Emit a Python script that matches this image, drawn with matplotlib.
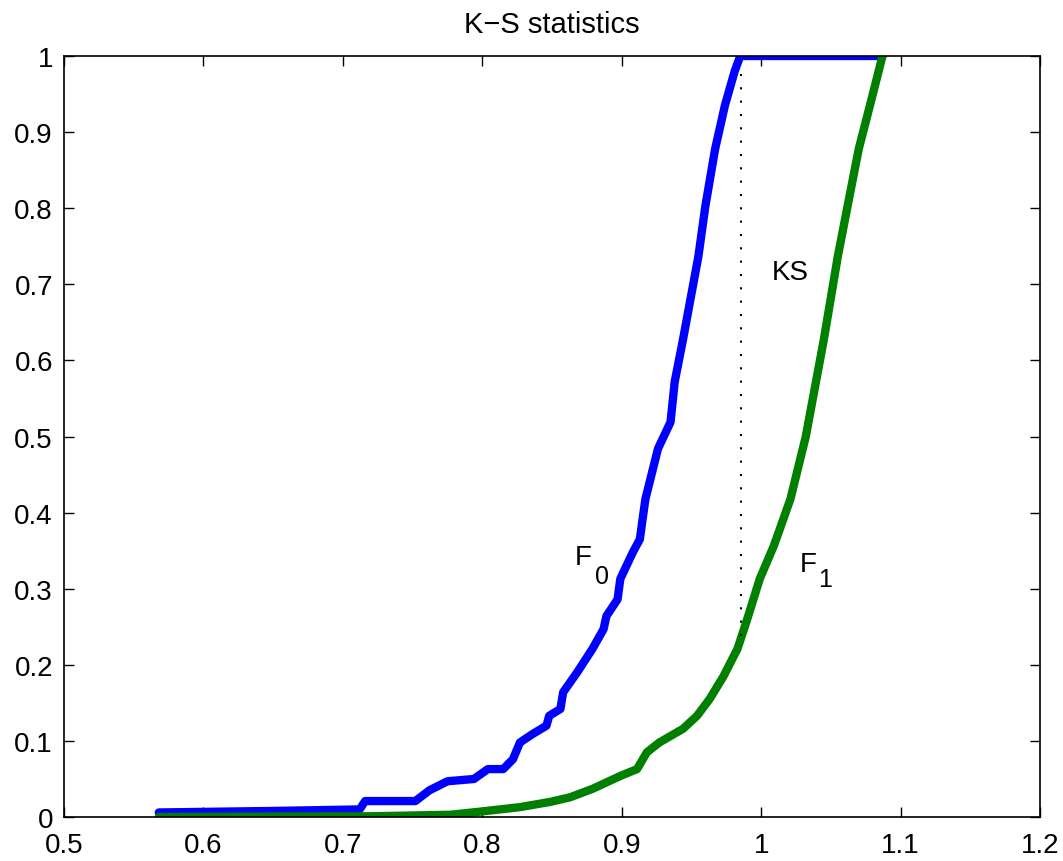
import numpy as np
import matplotlib.pyplot as plt

plt.rcParams['font.family'] = ['Liberation Sans', 'DejaVu Sans']

f0_x = [0.568, 0.650, 0.712, 0.716, 0.752, 0.762, 0.775, 0.794, 0.804, 0.815,
        0.822, 0.827, 0.836, 0.846, 0.848, 0.856, 0.858, 0.868, 0.879, 0.887,
        0.889, 0.897, 0.899, 0.908, 0.913, 0.915, 0.917, 0.926, 0.935, 0.938,
        0.944, 0.955, 0.960, 0.967, 0.974, 0.981, 0.985, 1.087]
f0_y = [0.006, 0.008, 0.010, 0.021, 0.021, 0.035, 0.047, 0.050, 0.063, 0.063,
        0.076, 0.098, 0.109, 0.120, 0.133, 0.142, 0.164, 0.190, 0.221, 0.247,
        0.264, 0.286, 0.313, 0.348, 0.365, 0.392, 0.418, 0.484, 0.519, 0.572,
        0.628, 0.737, 0.803, 0.878, 0.935, 0.980, 1.000, 1.000]

# empirical CDF F1 (green)
f1_x = [0.568, 0.720, 0.777, 0.798, 0.827, 0.849, 0.863, 0.879, 0.899, 0.911,
        0.918, 0.927, 0.944, 0.954, 0.963, 0.973, 0.983, 0.990, 0.999, 1.009,
        1.016, 1.021, 1.032, 1.045, 1.055, 1.062, 1.070, 1.078, 1.087]
f1_y = [0.000, 0.001, 0.003, 0.007, 0.013, 0.020, 0.026, 0.037, 0.054, 0.063,
        0.085, 0.098, 0.116, 0.133, 0.155, 0.185, 0.221, 0.260, 0.313, 0.356,
        0.392, 0.418, 0.500, 0.628, 0.737, 0.803, 0.878, 0.935, 1.000]

# KS distance marker
ks_x = 0.9855
ks_lo, ks_hi = 0.238, 0.985

fig = plt.figure(figsize=(10.63, 8.62), dpi=100)
ax = fig.add_axes([0.0602, 0.051, 0.9182, 0.8829])

ax.plot(f0_x, f0_y, color='#0000ff', lw=6, solid_capstyle='round', solid_joinstyle='round')
ax.plot(f1_x, f1_y, color='#007f00', lw=6, solid_capstyle='round', solid_joinstyle='round')
ax.plot([ks_x, ks_x], [ks_lo, ks_hi], color='black', ls=(0, (1, 5.4)), lw=1.5)

# labels, MATLAB style subscripts (separate texts)
ax.text(0.8665, 0.3325, 'F', fontsize=20)
ax.text(0.8805, 0.308, '0', fontsize=18)
ax.text(1.0279, 0.3233, 'F', fontsize=20)
ax.text(1.0405, 0.304, '1', fontsize=18)
ax.text(1.0078, 0.707, 'KS', fontsize=20)

ax.set_xlim(0.5, 1.2)
ax.set_ylim(0, 1)
ax.set_xticks(np.arange(0.5, 1.21, 0.1))
ax.set_yticks(np.arange(0, 1.01, 0.1))
ax.set_xticklabels(['0.5', '0.6', '0.7', '0.8', '0.9', '1', '1.1', '1.2'])
ax.set_yticklabels(['0', '0.1', '0.2', '0.3', '0.4', '0.5', '0.6', '0.7', '0.8', '0.9', '1'])
ax.tick_params(direction='in', top=True, right=True, length=7, width=1, labelsize=20)
ax.tick_params(axis='x', pad=11)
ax.tick_params(axis='y', pad=8)
for s in ax.spines.values():
    s.set_linewidth(1.2)
ax.set_title('K\u2212S statistics', fontsize=21, pad=17)

fig.savefig('out.png', dpi=100)
